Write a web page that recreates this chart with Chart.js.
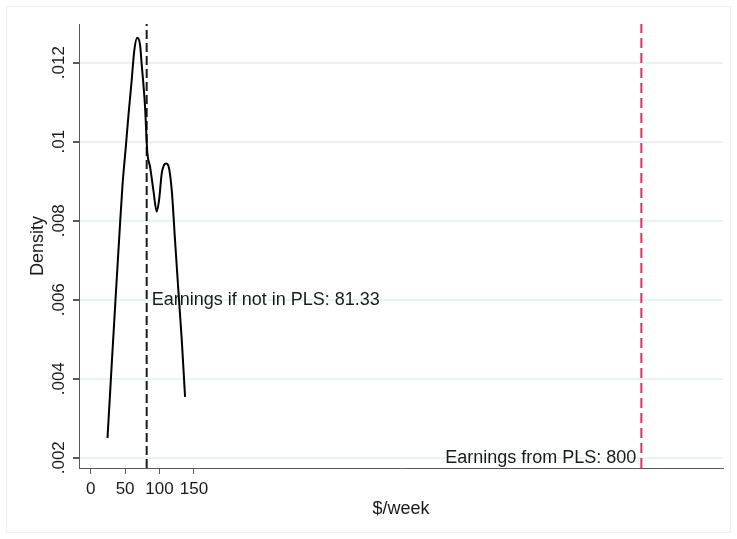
<!DOCTYPE html>
<html>
<head>
<meta charset="utf-8">
<script src="https://cdn.jsdelivr.net/npm/chart.js@4.4.0/dist/chart.umd.min.js"></script>
<style>
  body { margin: 0; background: #ffffff; }
  #chart { display: block; }
</style>
</head>
<body>
<canvas id="chart" width="737" height="539"></canvas>
<script>
// kernel density of weekly earnings
var earnings = [24.4, 30.5, 36.0, 41.9, 46.2, 50.6, 54.9, 59.3, 63.4, 67.7, 71.7, 74.1, 78.9, 81.4, 82.3, 86.2, 91.0, 95.9, 99.3, 103.2, 106.5, 109.4, 113.1, 117.7, 122.5, 127.3, 132.3, 137.1];
var density = [0.00250, 0.00435, 0.00599, 0.00771, 0.00890, 0.00979, 0.01068, 0.01151, 0.01232, 0.01263, 0.01245, 0.01195, 0.01090, 0.00998, 0.00971, 0.00937, 0.00878, 0.00823, 0.00852, 0.00920, 0.00941, 0.00945, 0.00938, 0.00878, 0.00751, 0.00625, 0.00498, 0.00354];

var xTicks = [0, 50, 100, 150];
var yTicks = [0.002, 0.004, 0.006, 0.008, 0.01, 0.012];
var yTickLabels = ['.002', '.004', '.006', '.008', '.01', '.012'];
var xRange = [-17, 918.6];
var yRange = [0.00174, 0.01298];

var notInPls = 81.33;
var fromPls = 800;
var notInPlsText = 'Earnings if not in PLS: 81.33';
var fromPlsText = 'Earnings from PLS: 800';

var fontFamily = '"Liberation Sans", Arial, sans-serif';
var textColor = '#1a1a1a';
var axisColor = '#5a5a5a';

var curve = [];
for (var i = 0; i < earnings.length; i++) {
  curve.push({x: earnings[i], y: density[i]});
}

function vline(x) {
  return [{x: x, y: yRange[0]}, {x: x, y: yRange[1]}];
}

const frame = {
  id: 'frame',
  beforeDraw: function(chart) {
    const ctx = chart.ctx;
    ctx.save();
    ctx.fillStyle = '#ffffff';
    ctx.fillRect(0, 0, chart.width, chart.height);
    ctx.strokeStyle = '#f0f0f0';
    ctx.lineWidth = 1;
    ctx.strokeRect(6.5, 6.5, chart.width - 13, chart.height - 13);
    ctx.restore();
  }
};

const lineLabels = {
  id: 'lineLabels',
  afterDatasetsDraw: function(chart) {
    const ctx = chart.ctx;
    const xs = chart.scales.x;
    const ys = chart.scales.y;
    ctx.save();
    ctx.font = '18px ' + fontFamily;
    ctx.fillStyle = textColor;
    ctx.textBaseline = 'middle';
    ctx.textAlign = 'left';
    ctx.fillText(notInPlsText, xs.getPixelForValue(notInPls) + 5, ys.getPixelForValue(0.006));
    ctx.textAlign = 'right';
    ctx.fillText(fromPlsText, xs.getPixelForValue(fromPls) - 5, ys.getPixelForValue(0.002));
    ctx.restore();
  }
};

const config = {
  type: 'line',
  data: {
    datasets: [
      {
        label: 'Density',
        data: curve,
        borderColor: '#000000',
        borderWidth: 2,
        pointRadius: 0,
        cubicInterpolationMode: 'monotone',
        fill: false
      },
      {
        label: 'Not in PLS',
        data: vline(notInPls),
        borderColor: '#1a1a1a',
        borderWidth: 2,
        borderDash: [9, 4],
        pointRadius: 0,
        fill: false
      },
      {
        label: 'From PLS',
        data: vline(fromPls),
        borderColor: '#d8345f',
        borderWidth: 2,
        borderDash: [10, 5],
        pointRadius: 0,
        fill: false
      }
    ]
  },
  options: {
    responsive: false,
    animation: false,
    layout: {
      padding: {left: 0, right: 14, top: 24, bottom: 0}
    },
    plugins: {
      legend: {display: false},
      tooltip: {enabled: false}
    },
    scales: {
      x: {
        type: 'linear',
        min: xRange[0],
        max: xRange[1],
        afterBuildTicks: function(axis) {
          axis.ticks = xTicks.map(function(v) { return {value: v}; });
        },
        afterFit: function(axis) {
          axis.height = 71;
        },
        border: {display: true, color: axisColor, width: 1},
        grid: {
          drawOnChartArea: false,
          drawTicks: true,
          tickLength: 6,
          tickColor: axisColor,
          color: axisColor
        },
        ticks: {
          autoSkip: false,
          minRotation: 0,
          maxRotation: 0,
          padding: 5,
          color: textColor,
          font: {family: fontFamily, size: 17},
          callback: function(value) { return String(value); }
        },
        title: {
          display: true,
          text: '$/week',
          color: textColor,
          font: {family: fontFamily, size: 18},
          padding: {top: 0, bottom: 19}
        }
      },
      y: {
        type: 'linear',
        min: yRange[0],
        max: yRange[1],
        afterBuildTicks: function(axis) {
          axis.ticks = yTicks.map(function(v) { return {value: v}; });
        },
        afterFit: function(axis) {
          axis.width = 79;
        },
        border: {display: true, color: axisColor, width: 1},
        grid: {
          drawOnChartArea: true,
          drawTicks: true,
          tickLength: 6,
          tickColor: axisColor,
          color: '#ebf2f3',
          lineWidth: 2
        },
        ticks: {
          autoSkip: false,
          minRotation: 90,
          maxRotation: 90,
          crossAlign: 'center',
          padding: -3,
          color: textColor,
          font: {family: fontFamily, size: 17},
          callback: function(value, index) { return yTickLabels[index]; }
        },
        title: {
          display: true,
          text: 'Density',
          color: textColor,
          font: {family: fontFamily, size: 18},
          padding: {top: 27, bottom: 0}
        }
      }
    }
  },
  plugins: [frame, lineLabels]
};

const chart = new Chart(document.getElementById('chart'), config);
</script>
</body>
</html>
